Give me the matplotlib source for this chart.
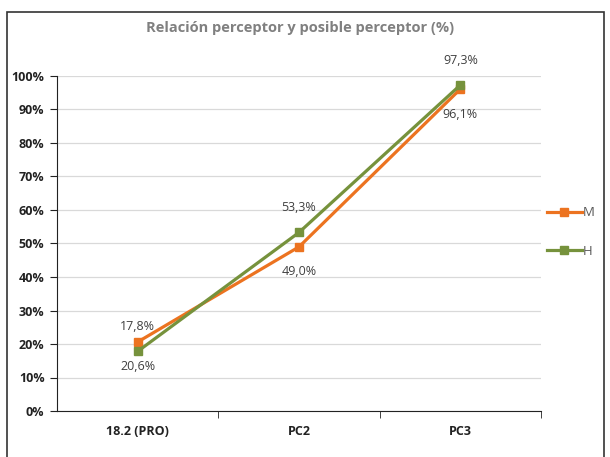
import matplotlib
matplotlib.use("Agg")
import matplotlib.pyplot as plt
from matplotlib.patches import Rectangle
from matplotlib.ticker import PercentFormatter

categories = ["18.2 (PRO)", "PC2", "PC3"]
m_vals = [20.6, 49.0, 96.1]
h_vals = [17.8, 53.3, 97.3]
m_labels = ["20,6%", "49,0%", "96,1%"]
h_labels = ["17,8%", "53,3%", "97,3%"]
yticks = [0, 10, 20, 30, 40, 50, 60, 70, 80, 90, 100]

ORANGE = "#EC7320"
GREEN = "#76923C"

plt.rcParams["font.family"] = ["Open Sans", "DejaVu Sans"]

W, H = 610, 457
fig = plt.figure(figsize=(W / 100, H / 100), dpi=100)
# outer chart frame (bottom edge is cropped in the original)
fig.patches.append(Rectangle((7 / W, -0.05), 597 / W, 1.05 - 12 / H,
                             transform=fig.transFigure, fill=False,
                             edgecolor="#333333", lw=1.2))
ax = fig.add_axes([57 / W, 1 - 411 / H, 484 / W, 335 / H])

x = list(range(len(categories)))
ax.plot(x, m_vals, color=ORANGE, lw=2.3, marker="s", ms=5.5, label="M", zorder=3)
ax.plot(x, h_vals, color=GREEN, lw=2.3, marker="s", ms=5.5, label="H", zorder=4)

for i in x:
    ax.annotate(h_labels[i], (i, h_vals[i]), xytext=(0, 18),
                textcoords="offset points", ha="center", va="center",
                fontsize=9, color="#404040")
    ax.annotate(m_labels[i], (i, m_vals[i]), xytext=(0, -18),
                textcoords="offset points", ha="center", va="center",
                fontsize=9, color="#404040")

ax.set_xlim(-0.5, len(categories) - 0.5)
ax.set_ylim(0, 100)
ax.set_yticks(yticks)
ax.yaxis.set_major_formatter(PercentFormatter(decimals=0))
ax.set_xticks(x)
ax.set_xticklabels(categories)
ax.set_xticks([0.5, 1.5, 2.5], minor=True)
ax.tick_params(axis="x", which="major", length=0, pad=10)
ax.tick_params(axis="x", which="minor", length=5, color="#222222")
ax.tick_params(axis="y", length=5, color="#222222", pad=4)
for lab in ax.get_xticklabels() + ax.get_yticklabels():
    lab.set_fontweight("bold")
    lab.set_fontsize(9)
    lab.set_color("#222222")

ax.grid(axis="y", color="#d9d9d9", lw=0.9)
ax.set_axisbelow(True)
for s in ("top", "right"):
    ax.spines[s].set_visible(False)
ax.spines["left"].set_color("#222222")
ax.spines["bottom"].set_color("#222222")

fig.text(300 / W, 1 - 28 / H, "Relación perceptor y posible perceptor (%)",
         ha="center", va="center", fontsize=10.5, fontweight="bold", color="#808080")

fig.legend(loc="center left", bbox_to_anchor=(542 / W, 1 - 232 / H), frameon=False,
           fontsize=9.5, handlelength=2.6, labelspacing=1.9, handletextpad=0.1,
           borderaxespad=0.0, labelcolor="#595959")

fig.savefig("out.png", dpi=100)
